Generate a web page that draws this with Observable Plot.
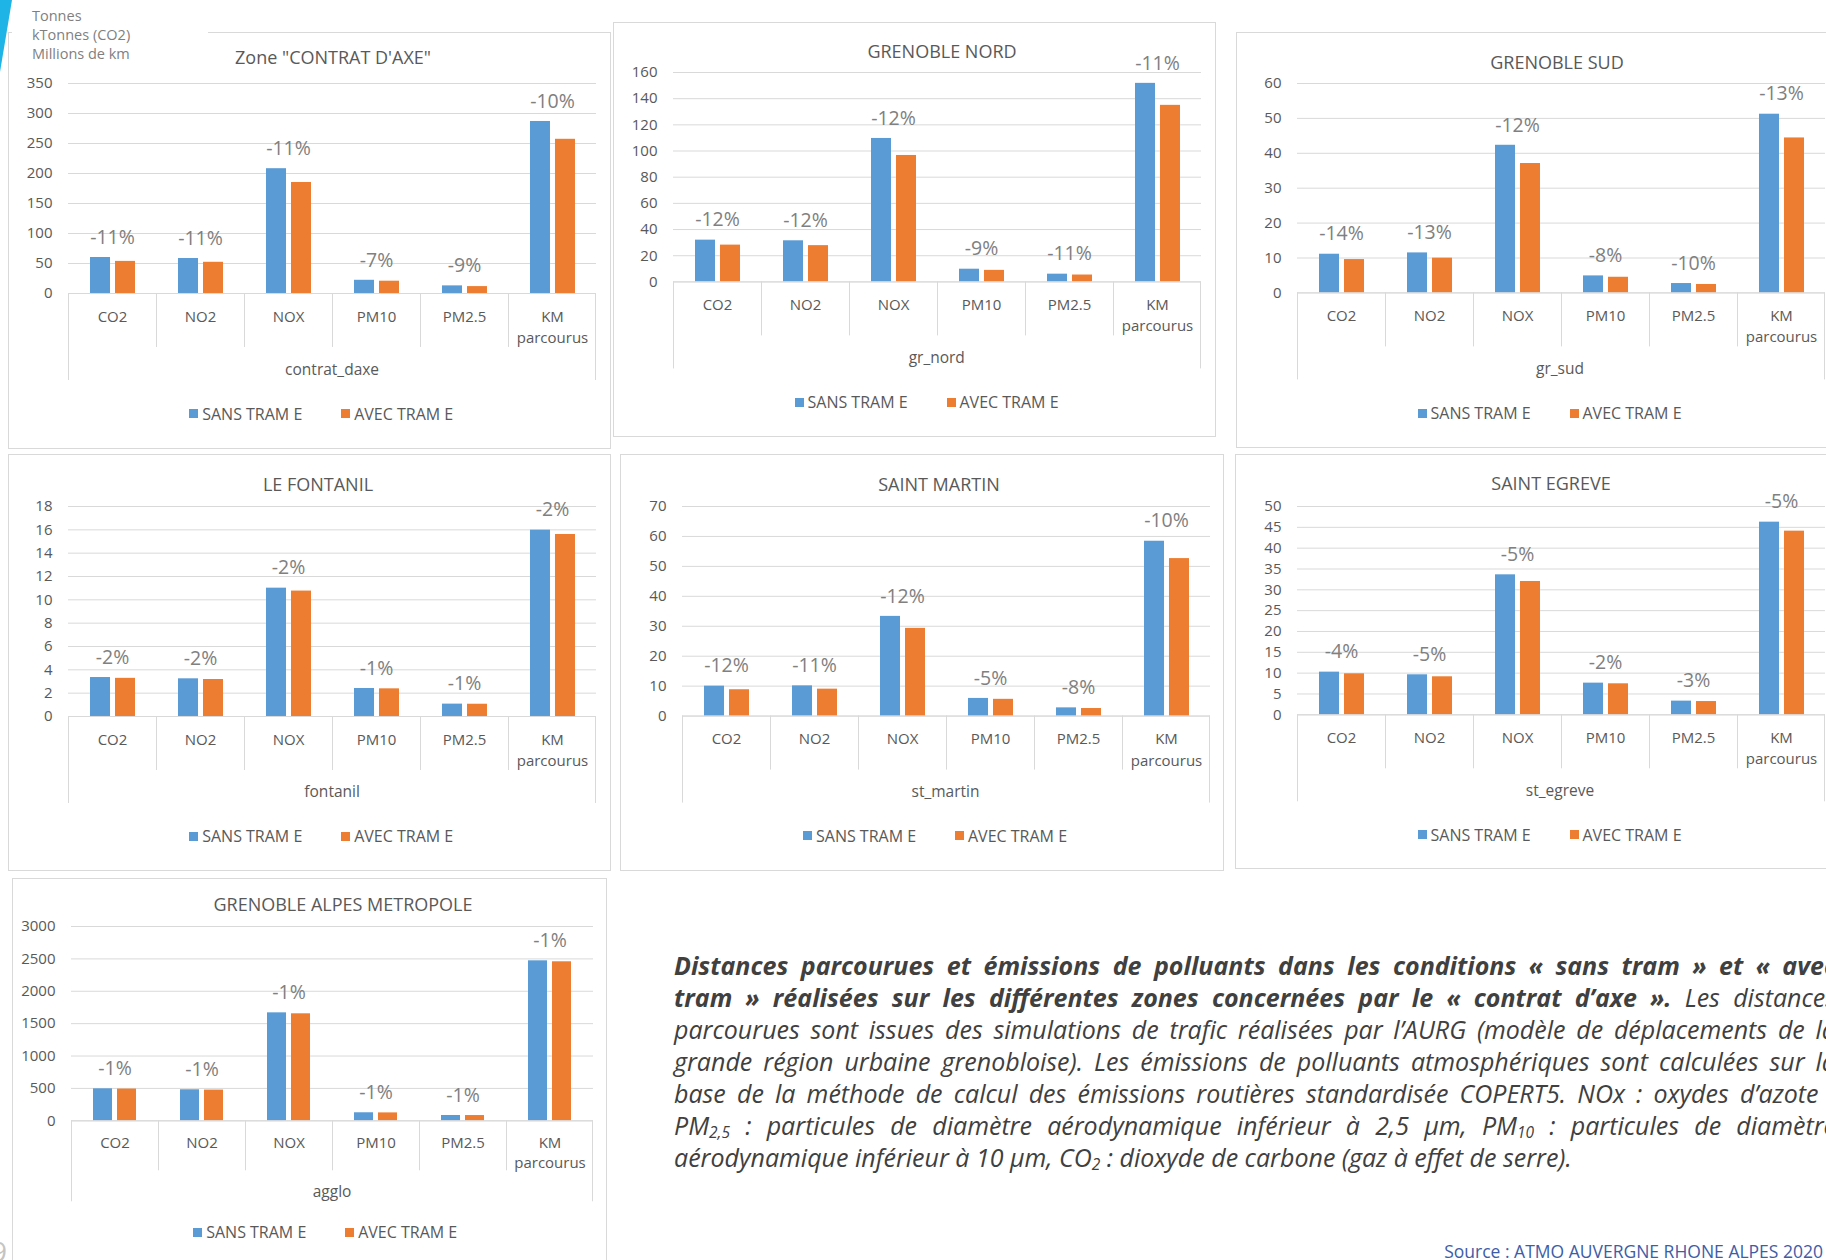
<!DOCTYPE html>
<html lang="fr">
<head>
<meta charset="utf-8">
<title>Distances parcourues et émissions de polluants</title>
<script src="https://cdn.jsdelivr.net/npm/d3@7"></script>
<script src="https://cdn.jsdelivr.net/npm/@observablehq/plot@0.6"></script>
<style>
  html, body { margin: 0; padding: 0; background: #fff; }
  body {
    position: relative; width: 1826px; height: 1260px; overflow: hidden;
    font-family: "Open Sans", "Noto Sans", sans-serif; color: #595959;
  }
  .box { position: absolute; border: 1px solid #d9d9d9; box-sizing: border-box; }
  .lbl { position: absolute; white-space: nowrap; line-height: 1; transform: translate(-50%, -50%); }
  .legend-item {
    position: absolute; display: flex; align-items: center; font-size: 16px;
    line-height: 1; white-space: nowrap; transform: translateY(-50%); color: #595959;
  }
  .swatch { width: 9px; height: 9px; margin-right: 4px; }
  #units {
    position: absolute; left: 12px; top: 0; width: 196px; height: 64px; background: #fff;
    padding: 6px 0 0 20px; box-sizing: border-box; font-size: 14.5px; line-height: 19px; color: #7f7f7f;
  }
  #caption {
    position: absolute; left: 674px; top: 949px; width: 1162px;
    font-style: italic; font-size: 25px; color: #404040;
  }
  #caption .ln { height: 32px; line-height: 32px; white-space: nowrap; overflow: visible; }
  #caption .ln > span { display: inline-block; white-space: nowrap; height: 32px; line-height: 32px; vertical-align: top; }
  #caption sub { font-size: 0.62em; line-height: 0; vertical-align: -0.22em; }
  #source {
    position: absolute; right: 3px; top: 1252px; transform: translateY(-50%);
    font-size: 17.5px; line-height: 1; color: #3d5da8; white-space: nowrap;
  }
  #page { position: absolute; left: -9px; top: 1237px; font-size: 28px; line-height: 1; color: #c4c4c4; }
</style>
</head>
<body>
<svg width="14" height="74" style="position:absolute;left:0;top:0">
  <polygon points="0,0 12,0 0,72" fill="#1fb4e6"></polygon>
</svg>
<script>
// Categories shared by every zone, and the two scenarios
const categories = ["CO2", "NO2", "NOX", "PM10", "PM2.5", "KM\nparcourus"];
const series = ["SANS TRAM E", "AVEC TRAM E"];
const seriesColors = ["#5b9bd5", "#ed7d31"];

// Zone "CONTRAT D'AXE"
const contratSans = [60, 58.3, 208, 22, 12.7, 286.7];
const contratAvec = [53.5, 52, 185, 20.5, 11.5, 257];
const contratChange = ["-11%", "-11%", "-11%", "-7%", "-9%", "-10%"];
const contratTicks = [0, 50, 100, 150, 200, 250, 300, 350];

// Grenoble Nord
const nordSans = [31.9, 31.4, 109.6, 9.7, 5.9, 151.7];
const nordAvec = [28.1, 27.7, 96.6, 8.8, 5.25, 134.9];
const nordChange = ["-12%", "-12%", "-12%", "-9%", "-11%", "-11%"];
const nordTicks = [0, 20, 40, 60, 80, 100, 120, 140, 160];

// Grenoble Sud
const sudSans = [11.08, 11.46, 42.3, 4.87, 2.68, 51.2];
const sudAvec = [9.55, 9.95, 37.07, 4.48, 2.41, 44.4];
const sudChange = ["-14%", "-13%", "-12%", "-8%", "-10%", "-13%"];
const sudTicks = [0, 10, 20, 30, 40, 50, 60];

// Le Fontanil
const fontanilSans = [3.34, 3.23, 11.0, 2.4, 1.06, 15.97];
const fontanilAvec = [3.27, 3.17, 10.75, 2.37, 1.05, 15.6];
const fontanilChange = ["-2%", "-2%", "-2%", "-1%", "-1%", "-2%"];
const fontanilTicks = [0, 2, 4, 6, 8, 10, 12, 14, 16, 18];

// Saint Martin
const martinSans = [10.0, 10.1, 33.3, 5.9, 2.75, 58.4];
const martinAvec = [8.8, 9.0, 29.3, 5.6, 2.53, 52.6];
const martinChange = ["-12%", "-11%", "-12%", "-5%", "-8%", "-10%"];
const martinTicks = [0, 10, 20, 30, 40, 50, 60, 70];

// Saint Egreve
const egreveSans = [10.24, 9.6, 33.6, 7.6, 3.28, 46.24];
const egreveAvec = [9.84, 9.12, 32.0, 7.44, 3.18, 44.08];
const egreveChange = ["-4%", "-5%", "-5%", "-2%", "-3%", "-5%"];
const egreveTicks = [0, 5, 10, 15, 20, 25, 30, 35, 40, 45, 50];

// Grenoble Alpes Metropole
const aggloSans = [494, 479, 1667, 124, 82, 2470];
const aggloAvec = [490, 474, 1652, 122, 81, 2455];
const aggloChange = ["-1%", "-1%", "-1%", "-1%", "-1%", "-1%"];
const aggloTicks = [0, 500, 1000, 1500, 2000, 2500, 3000];

const unitLines = ["Tonnes", "kTonnes (CO2)", "Millions de km"];

// Vertical offsets of the category axis parts below the zero line
const baseOffsets = {c1: 22.7, gap: 21.5, sep: 54, outer: 87, group: 76.5, legend: 120.5};
const tightOffsets = {c1: 21.4, gap: 20, sep: 50, outer: 81, group: 71.4, legend: 112};

const panels = [
  {title: "Zone \"CONTRAT D'AXE\"", zone: "contrat_daxe", sans: contratSans, avec: contratAvec, change: contratChange, ticks: contratTicks,
   box: [8, 32, 603, 417], x0: 65.2, x1: 599, yTop: 83.3, yZero: 293.3, titleAt: [333, 57], titleSize: 18, offsets: baseOffsets},
  {title: "GRENOBLE NORD", zone: "gr_nord", sans: nordSans, avec: nordAvec, change: nordChange, ticks: nordTicks,
   box: [613, 22, 603, 415], x0: 670.5, x1: 1203, yTop: 72.3, yZero: 281.7, titleAt: [942, 51], titleSize: 18, offsets: baseOffsets},
  {title: "GRENOBLE SUD", zone: "gr_sud", sans: sudSans, avec: sudAvec, change: sudChange, ticks: sudTicks,
   box: [1236, 32, 640, 416], x0: 1293.5, x1: 1826.5, yTop: 83.3, yZero: 292.7, titleAt: [1557, 61.7], titleSize: 18, offsets: baseOffsets},
  {title: "LE FONTANIL", zone: "fontanil", sans: fontanilSans, avec: fontanilAvec, change: fontanilChange, ticks: fontanilTicks,
   box: [8, 454, 603, 417], x0: 65.2, x1: 599, yTop: 505.7, yZero: 715.7, titleAt: [318, 484], titleSize: 18, offsets: baseOffsets},
  {title: "SAINT MARTIN", zone: "st_martin", sans: martinSans, avec: martinAvec, change: martinChange, ticks: martinTicks,
   box: [620, 454, 604, 417], x0: 679, x1: 1212, yTop: 505.7, yZero: 715.3, titleAt: [939, 484], titleSize: 18, offsets: baseOffsets},
  {title: "SAINT EGREVE", zone: "st_egreve", sans: egreveSans, avec: egreveAvec, change: egreveChange, ticks: egreveTicks,
   box: [1235, 454, 640, 415], x0: 1293.5, x1: 1826.5, yTop: 505.7, yZero: 714, titleAt: [1551, 483], titleSize: 18, offsets: baseOffsets},
  {title: "GRENOBLE ALPES METROPOLE", zone: "agglo", sans: aggloSans, avec: aggloAvec, change: aggloChange, ticks: aggloTicks,
   box: [12, 878, 595, 420], x0: 69.2, x1: 595, yTop: 926, yZero: 1120.3, titleAt: [343, 904.3], titleSize: 18, offsets: tightOffsets}
];

const FONT = "'Open Sans', 'Noto Sans', sans-serif";

function addDiv(cls, text, x, y, style = {}) {
  const d = document.createElement("div");
  d.className = cls;
  d.textContent = text;
  d.style.left = x + "px";
  d.style.top = y + "px";
  Object.assign(d.style, style);
  document.body.appendChild(d);
  return d;
}

// Panel frames first, so everything else sits on top
for (const p of panels) {
  const b = document.createElement("div");
  b.className = "box";
  Object.assign(b.style, {left: p.box[0] + "px", top: p.box[1] + "px", width: p.box[2] + "px", height: p.box[3] + "px"});
  document.body.appendChild(b);
}

function drawPanel(p) {
  const off = p.offsets;
  const marginLeft = 60, marginRight = 2, marginTop = 26, marginBottom = 104;
  const plotW = p.x1 - p.x0, plotH = p.yZero - p.yTop;

  const rows = categories.flatMap((c, i) => [
    {cat: c, series: series[0], value: p.sans[i]},
    {cat: c, series: series[1], value: p.avec[i]}
  ]);
  const notes = categories.map((c, i) => ({cat: c, value: p.sans[i], text: p.change[i]}));

  const lineHeight = off.gap / 15;
  const catDy = off.c1 + 0.357 * 15 - 0.71 * off.gap;

  const svg = Plot.plot({
    width: plotW + marginLeft + marginRight,
    height: plotH + marginTop + marginBottom,
    marginLeft, marginRight, marginTop, marginBottom,
    style: {fontFamily: FONT, fontSize: "15px", color: "#595959", background: "transparent", overflow: "visible"},
    fx: {domain: categories, padding: 0, axis: null},
    x: {domain: series, paddingInner: 0.205, paddingOuter: 0.854, axis: null},
    y: {domain: [0, d3.max(p.ticks)], axis: null},
    color: {domain: series, range: seriesColors},
    marks: [
      Plot.gridY(p.ticks, {stroke: "#d9d9d9", strokeOpacity: 1}),
      Plot.axisY(p.ticks, {anchor: "left", facetAnchor: "left", tickSize: 0, tickPadding: 16, fontSize: 15,
        fill: "#595959", label: null, tickFormat: (d) => String(d)}),
      Plot.barY(rows, {fx: "cat", x: "series", y: "value", fill: "series"}),
      Plot.ruleY([0], {stroke: "#d9d9d9"}),
      Plot.text(notes, {fx: "cat", y: "value", text: "text", dy: -20, fontSize: 19.5, fill: "#808080"}),
      Plot.text(categories, {fx: (d) => d, text: (d) => d, frameAnchor: "bottom", lineAnchor: "top",
        lineHeight, dy: catDy, fontSize: 15, fill: "#595959"})
    ]
  });

  // Category separators of the two-level axis, placed with the plot's own scales
  const fx = svg.scale("fx");
  const y = svg.scale("y");
  const y0 = y.apply(0);
  const bw = fx.bandwidth ?? (fx.range[1] - fx.range[0]) / categories.length;
  const g = d3.select(svg).append("g").attr("stroke", "#d9d9d9").attr("stroke-width", 1);
  categories.forEach((c, i) => {
    const left = Math.round(fx.apply(c)) + 0.5;
    g.append("line").attr("x1", left).attr("x2", left).attr("y1", y0).attr("y2", y0 + (i === 0 ? off.outer : off.sep));
  });
  const right = Math.round(fx.apply(categories[categories.length - 1]) + bw) - 0.5;
  g.append("line").attr("x1", right).attr("x2", right).attr("y1", y0).attr("y2", y0 + off.outer);

  Object.assign(svg.style, {position: "absolute", left: (p.x0 - marginLeft) + "px", top: (p.yTop - marginTop) + "px"});
  document.body.appendChild(svg);

  // Title, zone name and legend
  addDiv("lbl", p.title, p.titleAt[0], p.titleAt[1], {fontSize: p.titleSize + "px", color: "#595959"});
  addDiv("lbl", p.zone, (p.x0 + p.x1) / 2, p.yZero + off.group, {fontSize: "15.5px", color: "#595959"});
  series.forEach((s, i) => {
    const item = document.createElement("div");
    item.className = "legend-item";
    item.style.left = (p.x0 + 124 + i * 152) + "px";
    item.style.top = (p.yZero + off.legend) + "px";
    const sw = document.createElement("span");
    sw.className = "swatch";
    sw.style.background = seriesColors[i];
    item.appendChild(sw);
    item.appendChild(document.createTextNode(s));
    document.body.appendChild(item);
  });
}

panels.forEach(drawPanel);

// Unit block above the first panel
const units = document.createElement("div");
units.id = "units";
units.innerHTML = unitLines.join("<br>");
document.body.appendChild(units);
</script>

<div id="caption">
  <div class="ln j"><span><b>Distances parcourues et émissions de polluants dans les conditions « sans tram » et « avec</b></span></div>
  <div class="ln j"><span><b>tram » réalisées sur les différentes zones concernées par le « contrat d’axe ».</b> Les distances</span></div>
  <div class="ln j"><span>parcourues sont issues des simulations de trafic réalisées par l’AURG (modèle de déplacements de la</span></div>
  <div class="ln j"><span>grande région urbaine grenobloise). Les émissions de polluants atmosphériques sont calculées sur la</span></div>
  <div class="ln j"><span>base de la méthode de calcul des émissions routières standardisée COPERT5. NOx : oxydes d’azote ;</span></div>
  <div class="ln j"><span>PM<sub>2,5</sub> : particules de diamètre aérodynamique inférieur à 2,5 µm, PM<sub>10</sub> : particules de diamètre</span></div>
  <div class="ln"><span>aérodynamique inférieur à 10 µm, CO<sub>2</sub> : dioxyde de carbone (gaz à effet de serre).</span></div>
</div>
<div id="source">Source : ATMO AUVERGNE RHONE ALPES 2020</div>
<div id="page">9</div>
<script>
// Justify each caption line to the full column width by spreading (or tightening) its word spaces
function justifyCaption() {
  document.querySelectorAll("#caption .ln.j").forEach((line) => {
    const span = line.firstElementChild;
    span.style.wordSpacing = "0px";
    span.style.letterSpacing = "0px";
    const target = line.clientWidth;
    let natural = span.getBoundingClientRect().width;
    const spaces = (span.textContent.match(/ /g) || []).length;
    let extra = (target - natural) / spaces;
    if (extra < -2) {
      const chars = span.textContent.length;
      span.style.letterSpacing = ((target - natural + 2 * spaces) / chars) + "px";
      natural = span.getBoundingClientRect().width;
      extra = (target - natural) / spaces;
    }
    span.style.wordSpacing = extra + "px";
  });
}
justifyCaption();
if (document.fonts && document.fonts.ready) document.fonts.ready.then(justifyCaption);
</script>
</body>
</html>
